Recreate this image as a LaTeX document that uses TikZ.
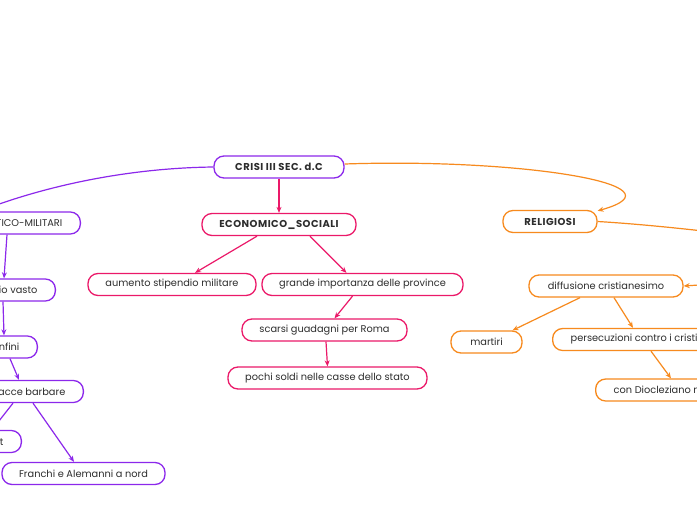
\documentclass[tikz,border=0pt]{standalone}
\usepackage{fontspec}
\setmainfont{Poppins}
\newfontfamily\titlefont[LetterSpace=5]{Poppins}
\usetikzlibrary{arrows.meta}
\definecolor{cpur}{RGB}{140,40,235}
\definecolor{cpink}{RGB}{235,25,105}
\definecolor{corg}{RGB}{247,138,30}
\definecolor{ctxt}{RGB}{45,45,45}
\tikzset{
  box/.style={draw, rounded corners=10pt, line width=1.3pt, fill=white, text=ctxt,
    inner sep=0pt, minimum height=22pt, font=\fontsize{9.8}{11}\selectfont},
  bbox/.style={box, font=\titlefont\fontsize{10}{11}\selectfont\bfseries},
  sidebox/.style={box, inner xsep=18pt},
  arr/.style={line width=1.2pt, -{Stealth[length=6pt,width=5pt]}},
  plain/.style={line width=1.2pt},
}
\begin{document}
\begin{tikzpicture}[x=1pt,y=-1pt]
\useasboundingbox (0,0) rectangle (697,520);
\clip (0,0) rectangle (697,520);
\fill[white] (0,0) rectangle (697,520);
% nodes
\node[bbox, draw=cpur, minimum width=130pt] (crisi) at (279,167) {CRISI III SEC. d.C};
\node[bbox, draw=cpink, minimum width=154pt] (eco) at (279,224.5) {ECONOMICO\_SOCIALI};
\node[box, draw=cpink, minimum width=168pt] (aum) at (172,284.5) {aumento stipendio militare};
\node[box, draw=cpink, minimum width=201pt] (gra) at (362.5,284.5) {grande importanza delle province};
\node[box, draw=cpink, minimum width=165pt] (sca) at (324.5,330) {scarsi guadagni per Roma};
\node[box, draw=cpink, minimum width=199pt] (poc) at (327.5,378) {pochi soldi nelle casse dello stato};
\node[bbox, draw=corg, minimum width=94pt] (rel) at (550,221.5) {RELIGIOSI};
\node[box, draw=corg, minimum width=154pt] (dif) at (606,286) {diffusione cristianesimo};
\node[box, draw=corg, minimum width=71pt] (mar) at (486.5,342) {martiri};
\node[sidebox, draw=corg, anchor=west] (per) at (552,339.5) {persecuzioni contro i cristiani};
\node[sidebox, draw=corg, anchor=west] (dio) at (595,390) {con Diocleziano nel 303};
\node[bbox, sidebox, draw=cpur, anchor=east] (pm) at (81,223) {POLITICO-MILITARI};
\node[sidebox, draw=cpur, anchor=east] (vas) at (56,290) {territorio vasto};
\node[sidebox, draw=cpur, anchor=east] (con) at (38,347) {difficile difendere i confini};
\node[sidebox, draw=cpur, anchor=east] (mn) at (84,391.5) {minacce barbare};
\node[sidebox, draw=cpur, anchor=east] (est) at (22,441.5) {Persiani a est};
\node[box, draw=cpur, minimum width=163pt] (fra) at (83.5,473.5) {Franchi e Alemanni a nord};
% off-page connector ends
\coordinate (pmTop) at (-30,215);
\coordinate (relOut) at (760,238);
\coordinate (difIn) at (760,281);
% connectors
\draw[arr, cpur] (crisi.west) .. controls (130,168) and (45,185) .. (pmTop);
\draw[arr, corg] ([yshift=3pt]crisi.east) .. controls (520,158) and (690,185) .. ([yshift=-1pt]rel.north east);
\draw[arr, cpink] (crisi.south) -- (eco.north);
\draw[arr, cpink] ([xshift=-22pt]eco.south) -- ([xshift=23pt]aum.north);
\draw[arr, cpink] ([xshift=31pt]eco.south) -- ([xshift=-16pt]gra.north);
\draw[arr, cpink] ([xshift=-10pt]gra.south) -- ([xshift=10pt]sca.north);
\draw[arr, cpink] ([xshift=1.5pt]sca.south) -- (poc.north);
\draw[plain, corg] (rel.east) .. controls (640,224) and (700,230) .. (relOut);
\draw[arr, corg] (difIn) -- (dif.east);
\draw[arr, corg] ([xshift=-26pt]dif.south) -- ([xshift=26pt]mar.north);
\draw[arr, corg] ([xshift=8pt]dif.south) -- ([xshift=81pt]per.north west);
\draw[arr, corg] ([xshift=99pt]per.south west) -- ([xshift=76pt]dio.north west);
\draw[arr, cpur] ([xshift=-74pt]pm.south east) -- ([xshift=-52pt]vas.north east);
\draw[arr, cpur] ([xshift=-53pt]vas.south east) -- ([xshift=-34pt]con.north east);
\draw[arr, cpur] ([xshift=-28pt]con.south east) -- ([xshift=-65pt]mn.north east);
\draw[arr, cpur] ([xshift=-51pt]mn.south east) -- ([xshift=-9.5pt]fra.north);
\draw[arr, cpur] ([xshift=-71pt]mn.south east) -- ([xshift=-30pt]est.north east);
\end{tikzpicture}
\end{document}
